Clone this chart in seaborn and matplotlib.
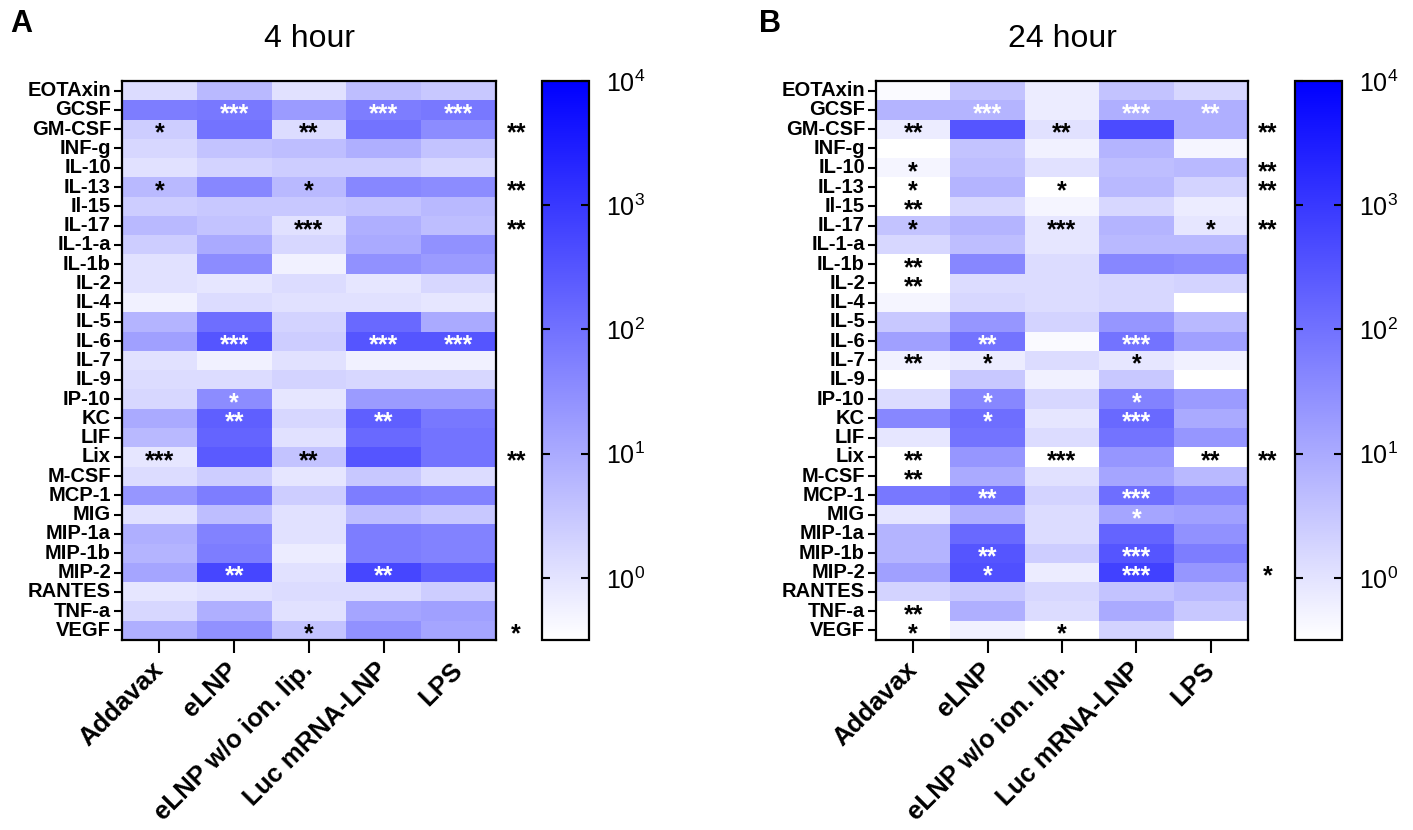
import pandas as pd
import matplotlib.pyplot as plt
import seaborn as sns
from matplotlib.colors import LinearSegmentedColormap
from matplotlib.transforms import offset_copy

sns.set_style('white', {'text.color': 'black', 'xtick.color': 'black',
                        'ytick.color': 'black', 'axes.labelcolor': 'black'})
plt.rcParams['font.family'] = ['Liberation Sans', 'DejaVu Sans']
plt.rcParams['mathtext.default'] = 'regular'

cytokines = ['EOTAxin', 'GCSF', 'GM-CSF', 'INF-g', 'IL-10', 'IL-13', 'Il-15', 'IL-17',
             'IL-1-a', 'IL-1b', 'IL-2', 'IL-4', 'IL-5', 'IL-6', 'IL-7', 'IL-9', 'IP-10',
             'KC', 'LIF', 'Lix', 'M-CSF', 'MCP-1', 'MIG', 'MIP-1a', 'MIP-1b', 'MIP-2',
             'RANTES', 'TNF-a', 'VEGF']
treatments = ['Addavax', 'eLNP', 'eLNP w/o ion. lip.', 'Luc mRNA-LNP', 'LPS']

# log10 fold change, 4 hour
h4_addavax = [0.12, 1.79, 0.38, 0.21, 0.03, 0.74, 0.38, 0.74, 0.38, 0.03, 0.03, -0.24, 0.82, 1.18, 0.03,
              0.12, 0.21, 1.00, 0.74, -0.06, 0.12, 1.35, 0.03, 0.91, 0.82, 1.09, -0.06, 0.21, 0.91]
h4_elnp = [0.74, 1.88, 1.97, 0.56, 0.29, 1.62, 0.47, 0.56, 1.00, 1.53, -0.06, 0.12, 2.06, 2.50, -0.24,
           0.12, 1.53, 2.32, 2.24, 2.41, 0.38, 1.79, 0.65, 1.71, 1.79, 2.76, 0.03, 0.91, 1.44]
h4_noion = [0.03, 1.26, 0.12, 0.65, 0.38, 0.74, 0.47, 0.03, 0.21, -0.24, 0.12, 0.03, 0.29, 0.38, 0.03,
            0.29, -0.06, 0.21, 0.03, 0.56, -0.06, 0.38, 0.03, 0.03, -0.15, 0.03, 0.12, 0.03, 0.56]
h4_luc = [0.65, 1.79, 1.97, 0.91, 0.38, 1.62, 0.56, 0.91, 1.00, 1.44, -0.06, 0.03, 2.15, 2.50, -0.24,
          0.21, 1.26, 2.32, 2.15, 2.50, 0.47, 1.79, 0.65, 1.79, 1.79, 2.76, 0.12, 1.09, 1.44]
h4_lps = [0.47, 1.88, 1.53, 0.56, 0.21, 1.53, 0.74, 0.65, 1.44, 1.26, 0.21, -0.06, 1.00, 2.50, -0.24,
          0.21, 1.26, 1.88, 1.97, 1.97, 0.12, 1.71, 0.47, 1.71, 1.71, 2.32, 0.38, 1.18, 1.09]

# log10 fold change, 24 hour
h24_addavax = [-0.41, 0.82, -0.15, -0.50, -0.32, -0.50, -0.50, 0.56, 0.21, -0.50, -0.50, -0.32, 0.47, 1.18, -0.24,
               -0.50, 0.12, 1.62, -0.06, -0.50, -0.50, 1.88, -0.06, 0.82, 0.82, 1.18, 0.29, -0.50, -0.50]
h24_elnp = [0.56, 0.82, 2.50, 0.56, 0.65, 0.82, 0.21, 0.82, 0.65, 1.62, 0.12, 0.21, 1.35, 1.97, -0.15,
            0.47, 1.62, 2.06, 1.97, 1.35, 1.00, 2.06, 0.91, 2.15, 2.50, 2.59, 0.47, 0.91, -0.24]
h24_noion = [-0.15, -0.15, 0.03, -0.24, 0.03, -0.50, -0.32, -0.06, -0.06, 0.12, 0.12, 0.12, 0.29, -0.41, 0.12,
             -0.24, 0.21, -0.06, 0.12, -0.50, 0.03, 0.29, 0.12, 0.12, 0.38, -0.15, 0.21, 0.12, -0.50]
h24_luc = [0.56, 0.91, 2.68, 0.82, 0.65, 0.74, 0.21, 0.82, 0.74, 1.62, 0.21, 0.21, 1.35, 1.97, -0.06,
           0.47, 1.71, 2.15, 1.97, 1.35, 1.09, 2.06, 1.09, 2.24, 2.50, 2.85, 0.56, 1.00, 0.29]
h24_lps = [0.21, 0.91, 0.91, -0.32, 0.74, 0.29, -0.15, -0.06, 0.74, 1.53, 0.29, -0.50, 0.74, 1.18, -0.24,
           -0.50, 1.26, 1.00, 1.35, -0.50, 0.74, 1.62, 1.18, 1.44, 1.79, 1.35, 0.74, 0.47, -0.50]

stars_4h = [('GCSF', 'eLNP', '***'), ('GCSF', 'Luc mRNA-LNP', '***'), ('GCSF', 'LPS', '***'),
            ('GM-CSF', 'Addavax', '*'), ('GM-CSF', 'eLNP w/o ion. lip.', '**'),
            ('IL-13', 'Addavax', '*'), ('IL-13', 'eLNP w/o ion. lip.', '*'),
            ('IL-17', 'eLNP w/o ion. lip.', '***'),
            ('IL-6', 'eLNP', '***'), ('IL-6', 'Luc mRNA-LNP', '***'), ('IL-6', 'LPS', '***'),
            ('IP-10', 'eLNP', '*'),
            ('KC', 'eLNP', '**'), ('KC', 'Luc mRNA-LNP', '**'),
            ('Lix', 'Addavax', '***'), ('Lix', 'eLNP w/o ion. lip.', '**'),
            ('MIP-2', 'eLNP', '**'), ('MIP-2', 'Luc mRNA-LNP', '**'),
            ('VEGF', 'eLNP w/o ion. lip.', '*')]
side_4h = [('GM-CSF', '**'), ('IL-13', '**'), ('IL-17', '**'), ('Lix', '**'), ('VEGF', '*')]

stars_24h = [('GCSF', 'eLNP', '***'), ('GCSF', 'Luc mRNA-LNP', '***'), ('GCSF', 'LPS', '**'),
             ('GM-CSF', 'Addavax', '**'), ('GM-CSF', 'eLNP w/o ion. lip.', '**'),
             ('IL-10', 'Addavax', '*'),
             ('IL-13', 'Addavax', '*'), ('IL-13', 'eLNP w/o ion. lip.', '*'),
             ('Il-15', 'Addavax', '**'),
             ('IL-17', 'Addavax', '*'), ('IL-17', 'eLNP w/o ion. lip.', '***'), ('IL-17', 'LPS', '*'),
             ('IL-1b', 'Addavax', '**'), ('IL-2', 'Addavax', '**'),
             ('IL-6', 'eLNP', '**'), ('IL-6', 'Luc mRNA-LNP', '***'),
             ('IL-7', 'Addavax', '**'), ('IL-7', 'eLNP', '*'), ('IL-7', 'Luc mRNA-LNP', '*'),
             ('IP-10', 'eLNP', '*'), ('IP-10', 'Luc mRNA-LNP', '*'),
             ('KC', 'eLNP', '*'), ('KC', 'Luc mRNA-LNP', '***'),
             ('Lix', 'Addavax', '**'), ('Lix', 'eLNP w/o ion. lip.', '***'), ('Lix', 'LPS', '**'),
             ('M-CSF', 'Addavax', '**'),
             ('MCP-1', 'eLNP', '**'), ('MCP-1', 'Luc mRNA-LNP', '***'),
             ('MIG', 'Luc mRNA-LNP', '*'),
             ('MIP-1b', 'eLNP', '**'), ('MIP-1b', 'Luc mRNA-LNP', '***'),
             ('MIP-2', 'eLNP', '*'), ('MIP-2', 'Luc mRNA-LNP', '***'),
             ('TNF-a', 'Addavax', '**'),
             ('VEGF', 'Addavax', '*'), ('VEGF', 'eLNP w/o ion. lip.', '*')]
side_24h = [('GM-CSF', '**'), ('IL-10', '**'), ('IL-13', '**'), ('IL-17', '**'), ('Lix', '**'), ('MIP-2', '*')]

df_4h = pd.DataFrame(dict(zip(treatments, [h4_addavax, h4_elnp, h4_noion, h4_luc, h4_lps])), index=cytokines)
df_24h = pd.DataFrame(dict(zip(treatments, [h24_addavax, h24_elnp, h24_noion, h24_luc, h24_lps])), index=cytokines)

cmap = LinearSegmentedColormap.from_list('wb', ['#ffffff', '#0000ff'])

W, H = 1413, 830
fig = plt.figure(figsize=(W / 100, H / 100), dpi=100)


def px(x0, x1, y0, y1):
    return [x0 / W, 1 - y1 / H, (x1 - x0) / W, (y1 - y0) / H]


def panel(df, stars, side, hm_box, cb_box, title, letter, letter_x):
    ax = fig.add_axes(px(*hm_box))
    cax = fig.add_axes(px(*cb_box))
    sns.heatmap(df, ax=ax, cmap=cmap, vmin=-0.5, vmax=4, cbar_ax=cax, linewidths=0)
    for s in ax.spines.values():
        s.set_visible(True)
        s.set_color('black')
        s.set_linewidth(1.6)
    ax.tick_params(axis='y', left=True, length=6, width=1.5, pad=2, labelsize=14.5)
    ax.tick_params(axis='x', bottom=True, length=9, width=1.5, pad=10, labelsize=18.5)
    plt.setp(ax.get_yticklabels(), rotation=0, fontweight='bold')
    plt.setp(ax.get_xticklabels(), rotation=45, ha='right', va='center',
             rotation_mode='anchor', fontweight='bold')
    ax.text(0.5, 1 + 34 / 559, title, transform=ax.transAxes, ha='center',
            va='baseline', fontsize=23)
    fig.text(letter_x / W, 1 - 32 / H, letter, fontsize=22, fontweight='bold', va='baseline')

    fs = 18
    tr = offset_copy(ax.transData, fig=fig, y=-0.45 * fs, units='points')
    rows = {c: i for i, c in enumerate(df.index)}
    cols = {c: j for j, c in enumerate(df.columns)}
    for r, c, lab in stars:
        v = df.loc[r, c]
        ax.text(cols[c] + 0.5, rows[r] + 0.5, lab, transform=tr, ha='center', va='baseline',
                fontsize=fs, fontweight='bold', color='white' if v >= 0.78 else 'black')
    for r, lab in side:
        ax.text(len(cols) + 0.27, rows[r] + 0.5, lab, transform=tr, ha='center', va='baseline',
                fontsize=fs, fontweight='bold', color='black', clip_on=False)

    cbar = ax.collections[0].colorbar
    cbar.outline.set_edgecolor('black')
    cbar.outline.set_linewidth(1.6)
    cbar.set_ticks([0, 1, 2, 3, 4])
    cbar.set_ticklabels([f'$10^{{{k}}}$' for k in range(5)])
    cax.set_axisbelow(False)
    cax.tick_params(axis='y', direction='in', left=True, right=True, length=6, width=1.5,
                    pad=12, labelsize=18)


panel(df_4h, stars_4h, side_4h, (122, 496, 81, 640), (542, 589, 81, 640), '4 hour', 'A', 10)
panel(df_24h, stars_24h, side_24h, (876, 1248, 81, 640), (1295, 1342, 81, 640), '24 hour', 'B', 759)

fig.savefig('out.png', dpi=100)
